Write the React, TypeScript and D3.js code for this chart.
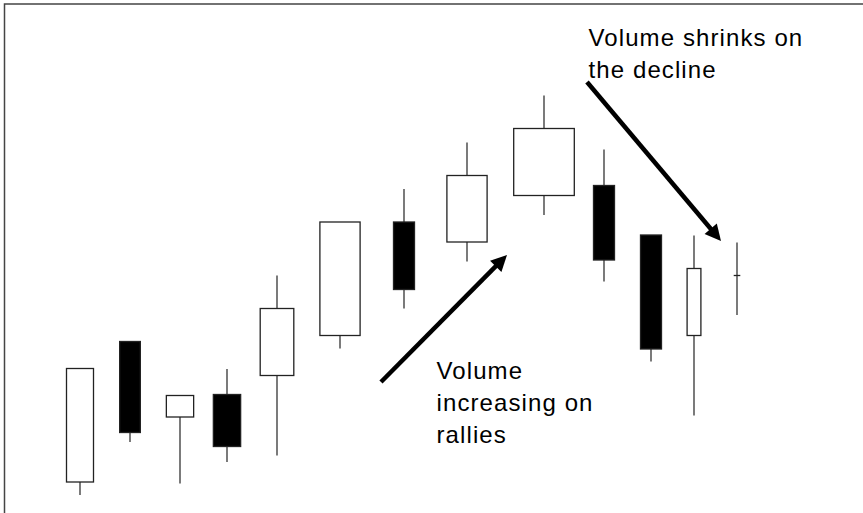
import { useEffect, useRef } from "react";
import * as d3 from "d3";

// session position (trading day units), body volume, and OHLC prices
const days = [1, 2, 3, 3.94, 4.94, 6.2, 7.48, 8.74, 10.28, 11.48, 12.42, 13.28, 14.14];
const volumes = [45, 34.5, 45.5, 45.5, 56, 67, 35, 67, 101, 35, 35, 23, 11];
const opens = [3.6, 31.7, 16.6, 21.1, 24.9, 32.9, 55.6, 51.6, 60.9, 62.9, 53, 32.9, 44.9];
const closes = [26.3, 13.5, 20.9, 10.7, 38.3, 55.6, 42.1, 64.9, 74.3, 48, 30.2, 46.3, 44.9];
const highs = [26.3, 31.7, 20.9, 26.2, 44.9, 55.6, 62.2, 71.5, 80.9, 70.1, 53, 52.9, 51.5];
const lows = [1.0, 11.6, 3.3, 7.6, 8.9, 30.3, 38.3, 47.7, 57, 43.7, 27.7, 16.9, 37];

// annotations: [day, price] anchors
const arrowStarts = [[7.02, 23.6], [11.14, 83.6]];
const arrowEnds = [[9.54, 49], [13.82, 51.8]];
const labelAnchors = [[8.13, 24.3], [11.17, 90.9]];
const labelLines = [
  ["Volume", "increasing on", "rallies"],
  ["Volume shrinks on", "the decline"],
];

export default function App() {
  const svgRef = useRef<SVGSVGElement>(null);

  useEffect(() => {
    if (!svgRef.current) return;
    const svg = d3.select(svgRef.current);
    svg.selectAll("*").remove();

    const width = 863;
    const height = 513;

    const x = d3.scaleLinear().domain([0, 16]).range([30, 830]);
    const y = d3.scaleLinear().domain([0, 100]).range([500, 0]);
    const w = d3.scaleLinear().domain([0, 100]).range([0, 60]);

    svg.append("rect").attr("width", width).attr("height", height).attr("fill", "#fff");

    // frame (only left and top edges are visible)
    svg
      .append("path")
      .attr("d", `M4.5,${height + 5} L4.5,4 L${width + 5},4`)
      .attr("fill", "none")
      .attr("stroke", "#444")
      .attr("stroke-width", 1.5);

    const data = days.map((d, i) => ({
      day: d,
      vol: volumes[i],
      open: opens[i],
      close: closes[i],
      high: highs[i],
      low: lows[i],
    }));

    const g = svg.append("g");

    // wicks
    g.selectAll("line.wick")
      .data(data)
      .enter()
      .append("line")
      .attr("class", "wick")
      .attr("x1", (d) => x(d.day))
      .attr("x2", (d) => x(d.day))
      .attr("y1", (d) => y(d.high))
      .attr("y2", (d) => y(d.low))
      .attr("stroke", "#333")
      .attr("stroke-width", 1.3);

    // bodies
    g.selectAll("rect.body")
      .data(data.filter((d) => d.open !== d.close))
      .enter()
      .append("rect")
      .attr("class", "body")
      .attr("x", (d) => x(d.day) - w(d.vol) / 2)
      .attr("width", (d) => w(d.vol))
      .attr("y", (d) => y(Math.max(d.open, d.close)))
      .attr("height", (d) => Math.abs(y(d.open) - y(d.close)))
      .attr("fill", (d) => (d.close > d.open ? "#fff" : "#000"))
      .attr("stroke", "#222")
      .attr("stroke-width", 1.3);

    // doji ticks
    g.selectAll("line.doji")
      .data(data.filter((d) => d.open === d.close))
      .enter()
      .append("line")
      .attr("class", "doji")
      .attr("x1", (d) => x(d.day) - w(d.vol) / 2)
      .attr("x2", (d) => x(d.day) + w(d.vol) / 2)
      .attr("y1", (d) => y(d.open))
      .attr("y2", (d) => y(d.open))
      .attr("stroke", "#222")
      .attr("stroke-width", 1.3);

    // arrows
    const headLen = 16;
    const headHalf = 8;
    arrowStarts.forEach((s, i) => {
      const e = arrowEnds[i];
      const x1 = x(s[0]);
      const y1 = y(s[1]);
      const x2 = x(e[0]);
      const y2 = y(e[1]);
      const ang = Math.atan2(y2 - y1, x2 - x1);
      const bx = x2 - headLen * Math.cos(ang);
      const by = y2 - headLen * Math.sin(ang);
      svg
        .append("line")
        .attr("x1", x1)
        .attr("y1", y1)
        .attr("x2", bx + 2 * Math.cos(ang))
        .attr("y2", by + 2 * Math.sin(ang))
        .attr("stroke", "#000")
        .attr("stroke-width", 4.5);
      const px = -Math.sin(ang);
      const py = Math.cos(ang);
      svg
        .append("path")
        .attr(
          "d",
          `M${x2},${y2} L${bx + px * headHalf},${by + py * headHalf} L${bx - px * headHalf},${by - py * headHalf} Z`
        )
        .attr("fill", "#000");
    });

    // labels
    labelAnchors.forEach((a, i) => {
      const t = svg
        .append("text")
        .attr("x", x(a[0]))
        .attr("y", y(a[1]))
        .attr("fill", "#000")
        .style("font-family", "'Liberation Sans', Arial, sans-serif")
        .style("font-size", "24px")
        .style("letter-spacing", "1.1px");
      labelLines[i].forEach((ln, j) => {
        t.append("tspan")
          .attr("x", x(a[0]))
          .attr("dy", j === 0 ? 0 : 32)
          .text(ln);
      });
    });
  }, []);

  return (
    <svg
      ref={svgRef}
      width={863}
      height={513}
      style={{ position: "absolute", left: 0, top: 0, display: "block" }}
    />
  );
}
